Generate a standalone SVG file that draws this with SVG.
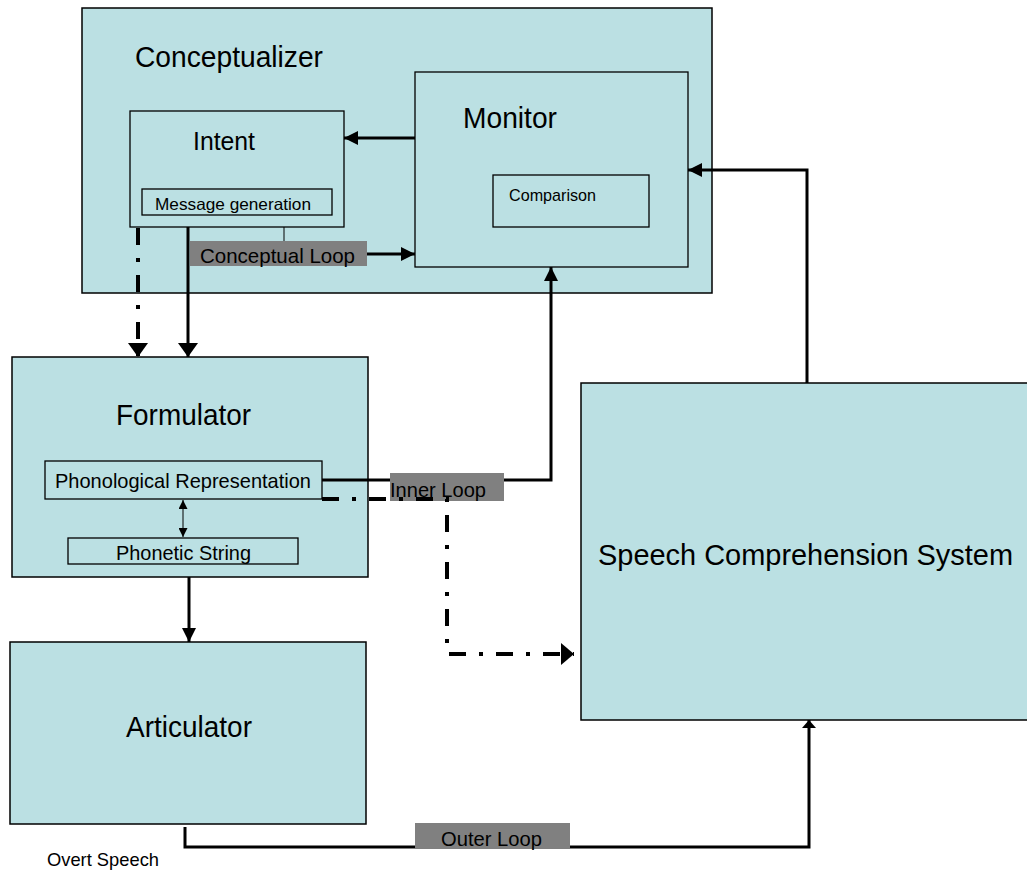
<svg xmlns="http://www.w3.org/2000/svg" width="1027" height="875" viewBox="0 0 1027 875">
  <style>
    .box { fill: #bbe0e3; stroke: #000; stroke-width: 1.5; }
    .sub { fill: #bbe0e3; stroke: #000; stroke-width: 1.3; }
    .t { font-family: "Liberation Sans", Arial, sans-serif; fill: #000; }
    .big { font-size: 29px; }
    .mid { font-size: 21px; }
    .small { font-size: 17px; }
    .line { fill: none; stroke: #000; stroke-width: 3; }
    .dashdot { fill: none; stroke: #000; stroke-width: 4; stroke-dasharray: 17 13 4 13; }
    .thin { fill: none; stroke: #000; stroke-width: 1; }
    .tag { fill: #808080; }
  </style>
  <defs>
    <marker id="arrow" markerUnits="userSpaceOnUse" markerWidth="14" markerHeight="14" refX="14" refY="7" orient="auto">
      <path d="M0,0 L14,7 L0,14 z" fill="#000"/>
    </marker>
    <marker id="arrowWide" markerUnits="userSpaceOnUse" markerWidth="14" markerHeight="20" refX="14" refY="10" orient="auto">
      <path d="M0,0 L14,10 L0,20 z" fill="#000"/>
    </marker>
    <marker id="arrowBig" markerUnits="userSpaceOnUse" markerWidth="13" markerHeight="22" refX="13" refY="11" orient="auto">
      <path d="M0,0 L13,11 L0,22 z" fill="#000"/>
    </marker>
    <marker id="arrowFlat" markerUnits="userSpaceOnUse" markerWidth="8" markerHeight="14" refX="8" refY="7" orient="auto">
      <path d="M0,0 L8,7 L0,14 z" fill="#000"/>
    </marker>
    <marker id="arrowSmall" markerUnits="userSpaceOnUse" markerWidth="9" markerHeight="9" refX="9" refY="4.5" orient="auto-start-reverse">
      <path d="M0,0 L9,4.5 L0,9 z" fill="#000"/>
    </marker>
  </defs>

  <rect width="1027" height="875" fill="#fff"/>

  <!-- Conceptualizer -->
  <g id="conceptualizer">
    <rect class="box" x="82" y="8" width="630" height="285"/>
    <text class="t big" x="135" y="67" textLength="188" lengthAdjust="spacingAndGlyphs">Conceptualizer</text>
  </g>
  <g id="intent">
    <rect class="sub" x="130" y="111" width="214" height="116"/>
    <text class="t" x="193" y="150" font-size="25" textLength="62" lengthAdjust="spacingAndGlyphs">Intent</text>
  </g>
  <g id="message-generation">
    <rect class="sub" x="142" y="189" width="190" height="26"/>
    <text class="t" x="155" y="210" font-size="16.5" textLength="156" lengthAdjust="spacingAndGlyphs">Message generation</text>
  </g>
  <g id="monitor">
    <rect class="sub" x="415" y="72" width="273" height="195"/>
    <text class="t big" x="463" y="128" textLength="94" lengthAdjust="spacingAndGlyphs">Monitor</text>
  </g>
  <g id="comparison">
    <rect class="sub" x="493" y="175" width="156" height="52"/>
    <text class="t small" x="509" y="201" textLength="87" lengthAdjust="spacingAndGlyphs">Comparison</text>
  </g>

  <!-- Formulator -->
  <g id="formulator">
    <rect class="box" x="12" y="357" width="356" height="220"/>
    <text class="t big" x="116" y="425" textLength="135" lengthAdjust="spacingAndGlyphs">Formulator</text>
  </g>
  <g id="phonological-representation">
    <rect class="sub" x="45" y="461" width="277" height="38"/>
    <text class="t mid" x="55" y="488" textLength="256" lengthAdjust="spacingAndGlyphs">Phonological Representation</text>
  </g>
  <g id="phonetic-string">
    <rect class="sub" x="68" y="538" width="230" height="26"/>
    <text class="t mid" x="116" y="560" textLength="135" lengthAdjust="spacingAndGlyphs">Phonetic String</text>
  </g>

  <!-- Articulator -->
  <g id="articulator">
    <rect class="box" x="10" y="642" width="356" height="182"/>
    <text class="t big" x="126" y="737" textLength="126" lengthAdjust="spacingAndGlyphs">Articulator</text>
  </g>

  <!-- Speech Comprehension System -->
  <g id="speech-comprehension">
    <rect class="box" x="581" y="383" width="460" height="337"/>
    <text class="t" x="598" y="565" font-size="30" textLength="415" lengthAdjust="spacingAndGlyphs">Speech Comprehension System</text>
  </g>

  <g id="connectors">
    <!-- Monitor to Intent -->
    <line class="line" x1="415" y1="138" x2="344" y2="138" marker-end="url(#arrow)"/>
    <!-- conceptual loop -->
    <line class="thin" x1="284" y1="227" x2="284" y2="241"/>
    <line class="line" x1="367" y1="254" x2="415" y2="254" marker-end="url(#arrow)"/>
    <!-- Intent to Formulator -->
    <line class="dashdot" x1="138" y1="228" x2="138" y2="357" marker-end="url(#arrowWide)"/>
    <line class="line" x1="188" y1="227" x2="188" y2="357" marker-end="url(#arrowWide)"/>
    <!-- Phonological / Phonetic -->
    <line class="thin" x1="183" y1="500" x2="183" y2="537" stroke-width="2" marker-start="url(#arrowSmall)" marker-end="url(#arrowSmall)"/>
    <!-- Formulator to Articulator -->
    <line class="line" x1="189" y1="577" x2="189" y2="642" marker-end="url(#arrow)"/>
    <!-- inner loop -->
    <path class="line" d="M322,480 H551 V267" marker-end="url(#arrow)"/>
    <!-- Speech Comprehension to Monitor -->
    <path class="line" d="M807,383 V170 H688" marker-end="url(#arrow)"/>
    <!-- outer loop -->
    <path class="line" d="M185,827 V847 H809 V720" marker-end="url(#arrowFlat)"/>
  </g>

  <g id="loop-labels">
    <rect class="tag" x="190" y="241" width="177" height="25"/>
    <text class="t mid" x="200" y="263" textLength="155" lengthAdjust="spacingAndGlyphs">Conceptual Loop</text>
    <rect class="tag" x="390" y="473" width="114" height="28"/>
    <text class="t mid" x="390" y="497" textLength="96" lengthAdjust="spacingAndGlyphs">Inner Loop</text>
    <rect class="tag" x="415" y="823" width="155" height="25"/>
    <text class="t mid" x="441" y="846" textLength="101" lengthAdjust="spacingAndGlyphs">Outer Loop</text>
  </g>

  <g id="connectors-overlay">
    <!-- Phonological Representation to Speech Comprehension -->
    <path class="dashdot" d="M322,499 H447 V654 H574" marker-end="url(#arrowBig)"/>
  </g>

  <text class="t" x="47" y="866" font-size="19" textLength="112" lengthAdjust="spacingAndGlyphs">Overt Speech</text>
</svg>
